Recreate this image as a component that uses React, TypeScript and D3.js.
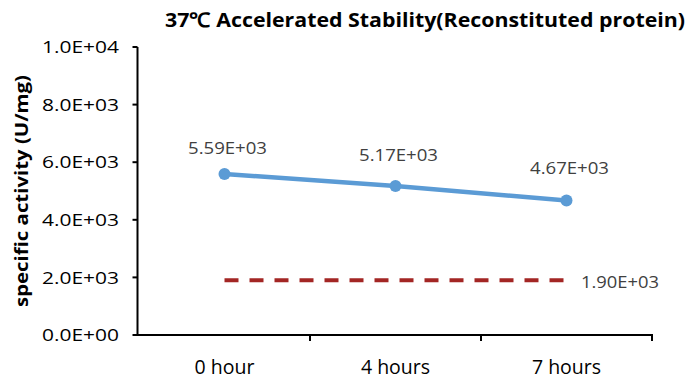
import React from "react";
import * as d3 from "d3";

const categories = ["0 hour", "4 hours", "7 hours"];
const activity = [5590, 5170, 4670];
const activityLabels = ["5.59E+03", "5.17E+03", "4.67E+03"];
const threshold = 1900;
const thresholdLabel = "1.90E+03";
const yTicks = [0, 2000, 4000, 6000, 8000, 10000];
const yTickLabels = ["0.0E+00", "2.0E+03", "4.0E+03", "6.0E+03", "8.0E+03", "1.0E+04"];
const title = "37℃ Accelerated Stability(Reconstituted protein)";
const yTitle = "specific activity (U/mg)";

const W = 700, H = 387;
const FONT = "'Open Sans', sans-serif";

export default function App() {
  const x = d3.scaleBand<string>().domain(categories).range([139, 652]);
  const y = d3.scaleLinear().domain([0, 10000]).range([335, 47]);
  const cx = (c: string) => (x(c) as number) + x.bandwidth() / 2;
  const line = d3.line<number>().x((_, i) => cx(categories[i])).y((d) => y(d));
  const labelOffsets = [26, 31, 33];
  return (
    <svg width={W} height={H} style={{ position: "absolute", left: 0, top: 0, background: "#fff" }}>
      <rect width={W} height={H} fill="#fff" />
      <text x={425} y={27} textAnchor="middle" fontFamily={FONT} fontWeight="bold" fontSize={20} fill="#000"
        textLength={520} lengthAdjust="spacingAndGlyphs">{title}</text>
      <text transform={`translate(28,191) rotate(-90)`} textAnchor="middle" fontFamily={FONT}
        fontWeight="bold" fontSize={17.5} fill="#000" textLength={232} lengthAdjust="spacingAndGlyphs">{yTitle}</text>
      {/* y axis */}
      <line x1={137.5} x2={137.5} y1={y(10000)} y2={y(0)} stroke="#000" strokeWidth={2} />
      {yTicks.map((t, i) => (
        <g key={t}>
          <line x1={132.5} x2={137.5} y1={y(t)} y2={y(t)} stroke="#000" strokeWidth={2} />
          <text x={119} y={y(t)} dy="0.36em" textAnchor="end" fontFamily={FONT} fontSize={17} fill="#000"
            textLength={77} lengthAdjust="spacingAndGlyphs">{yTickLabels[i]}</text>
        </g>
      ))}
      {/* x axis */}
      <line x1={136.5} x2={653} y1={y(0)} y2={y(0)} stroke="#000" strokeWidth={2} />
      {categories.map((c) => (
        <g key={c}>
          <line x1={(x(c) as number) + x.bandwidth()} x2={(x(c) as number) + x.bandwidth()} y1={y(0)} y2={y(0) + 6}
            stroke="#000" strokeWidth={2} />
          <text x={cx(c)} y={374} textAnchor="middle" fontFamily={FONT} fontSize={19.5} fill="#000">{c}</text>
        </g>
      ))}
      {/* threshold */}
      <line x1={cx(categories[0])} x2={cx(categories[categories.length - 1])} y1={y(threshold)} y2={y(threshold)}
        stroke="#a32624" strokeWidth={4} strokeDasharray="14,11" />
      <text x={581} y={y(threshold) + 2} dy="0.36em" fontFamily={FONT} fontSize={17} fill="#404040"
        textLength={78} lengthAdjust="spacingAndGlyphs">{thresholdLabel}</text>
      {/* series */}
      <path d={line(activity) || ""} fill="none" stroke="#5b9bd5" strokeWidth={4.5} />
      {activity.map((v, i) => (
        <g key={i}>
          <circle cx={cx(categories[i])} cy={y(v)} r={6} fill="#5b9bd5" />
          <text x={cx(categories[i]) + 3} y={y(v) - labelOffsets[i]} dy="0.36em" textAnchor="middle" fontFamily={FONT}
            fontSize={17} fill="#404040" textLength={79} lengthAdjust="spacingAndGlyphs">{activityLabels[i]}</text>
        </g>
      ))}
    </svg>
  );
}
